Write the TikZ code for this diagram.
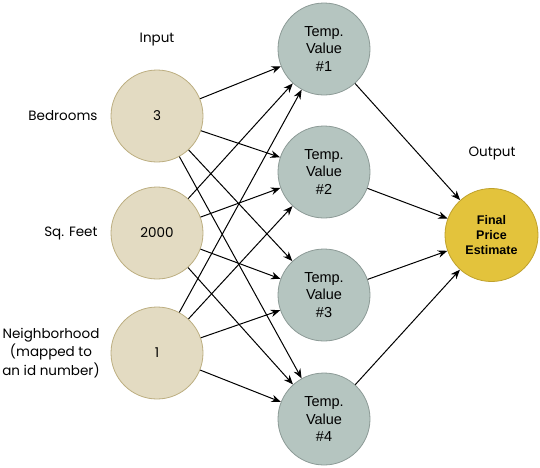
\documentclass[tikz,border=0pt]{standalone}
\usepackage{fontspec}
\setmainfont{Liberation Sans}
\newfontfamily\labfont{Poppins}
\usetikzlibrary{arrows.meta}
\definecolor{inFill}{HTML}{E3DBC2}
\definecolor{inDraw}{HTML}{BCAE80}
\definecolor{hidFill}{HTML}{B5C5C0}
\definecolor{hidDraw}{HTML}{8C9A96}
\definecolor{outFill}{HTML}{E3C33C}
\definecolor{outDraw}{HTML}{BFA12C}
\tikzset{
  innode/.style={circle, minimum size=92pt, inner sep=0pt, fill=inFill, draw=inDraw, line width=0.8pt, font=\labfont\fontsize{13.5}{16}\selectfont},
  hidnode/.style={circle, minimum size=92pt, inner sep=0pt, fill=hidFill, draw=hidDraw, line width=0.8pt, align=center, font=\fontsize{14.5}{17.5}\selectfont},
  outnode/.style={circle, minimum size=93pt, inner sep=0pt, fill=outFill, draw=outDraw, line width=0.8pt, align=center, font=\bfseries\fontsize{12.5}{15}\selectfont},
  lab/.style={font=\labfont\fontsize{13.5}{18.5}\selectfont, align=center},
  conn/.style={-{Stealth[length=9.5pt,width=7.5pt]}, line width=1pt, black},
}
\begin{document}
\begin{tikzpicture}[x=1pt,y=-1pt]
\useasboundingbox (0,0) rectangle (540,467);
\node[innode] (i1) at (157,116) {3};
\node[innode] (i2) at (157,233) {2000};
\node[innode] (i3) at (157,353) {1};
\node[hidnode] (h1) at (324,49) {Temp.\\Value\\\#1};
\node[hidnode] (h2) at (324,172) {Temp.\\Value\\\#2};
\node[hidnode] (h3) at (324,295) {Temp.\\Value\\\#3};
\node[hidnode] (h4) at (324,419) {Temp.\\Value\\\#4};
\node[outnode] (o) at (491.5,235) {Final\\Price\\Estimate};
\node[lab] (tin) at (157,40) {Input};
\node[lab] (tout) at (492,153) {Output};
\node[lab, anchor=east] (l1) at (101,116) {Bedrooms};
\node[lab, anchor=east] (l2) at (101,233) {Sq. Feet};
\node[lab] (l3) at (51,353) {Neighborhood\\(mapped to\\an id number)};
\foreach \a in {i1,i2,i3}{
  \foreach \b in {h1,h2,h3,h4}{
    \draw[conn] (\a) -- (\b);
  }
}
\foreach \b in {h1,h2,h3,h4}{
  \draw[conn] (\b) -- (o);
}
\end{tikzpicture}
\end{document}
